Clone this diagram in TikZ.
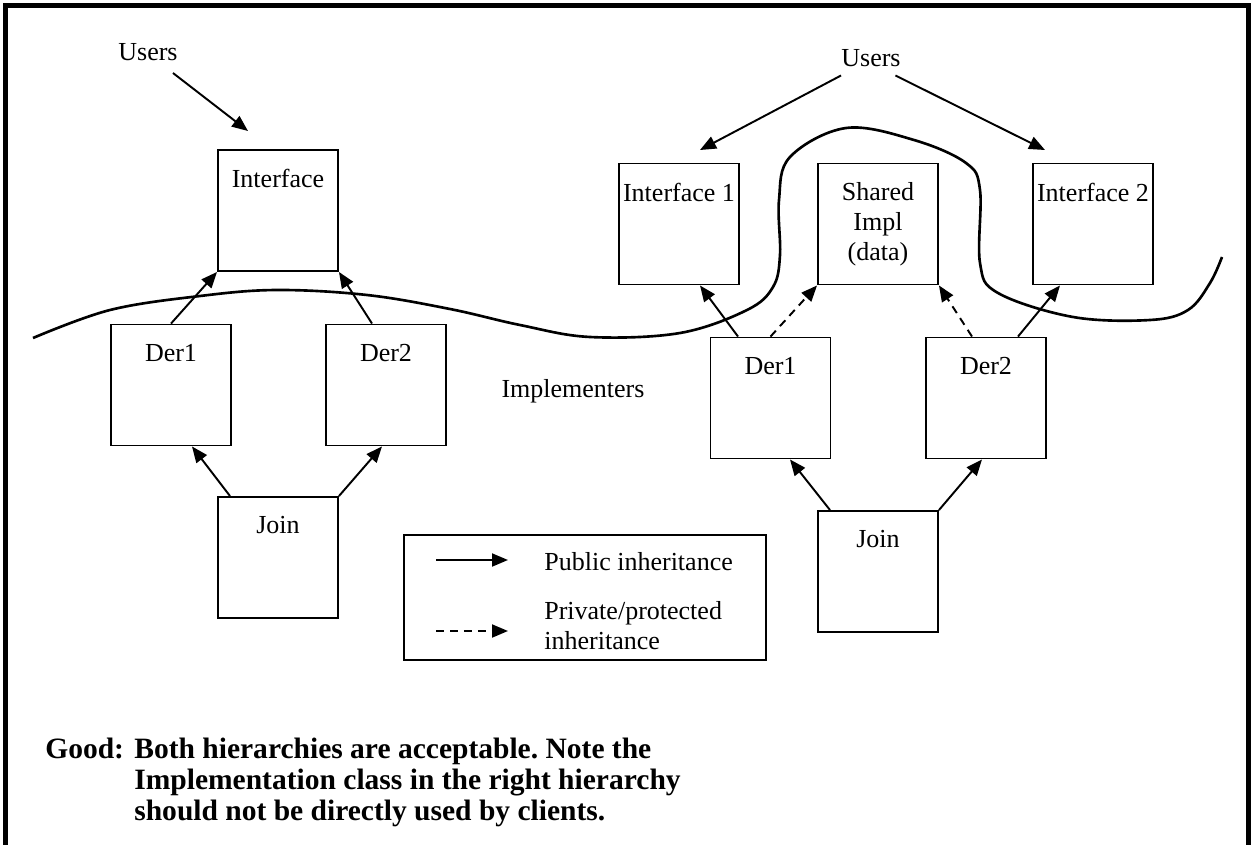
\documentclass[tikz,border=0pt]{standalone}
\usepackage{fontspec}
\setmainfont{Liberation Serif}
\usetikzlibrary{arrows.meta,positioning}
\frenchspacing

\tikzset{
  cls/.style={draw, line width=1.1pt, minimum width=2.4cm, minimum height=2.42cm, inner sep=0pt},
  lbl/.style={inner sep=0pt, align=center},
  inh/.style={line width=1.1pt, -{Triangle[length=0.32cm,width=0.26cm]}},
  priv/.style={inh, dash pattern=on 0.16cm off 0.12cm},
  cut/.style={line width=1.5pt},
  note/.style={inner sep=0pt, anchor=north west, align=left, font=\fontsize{16.8pt}{17.6pt}\selectfont\bfseries}
}

\begin{document}
\begin{tikzpicture}[x=0.02cm, y=-0.02cm, font=\fontsize{14.8pt}{17pt}\selectfont]
\useasboundingbox (0,0) rectangle (1251,845);
\draw [line width=2.4pt] (5.5,845) -- (5.5,5.5) -- (1248.5,5.5) -- (1248.5,845);

% class boxes, text at the top
\foreach \n/\x/\y/\t in {ifl/278/210.5/Interface, der1l/171/385/Der1, der2l/386/385/Der2, joinl/278/557.5/Join,
    if1/679/224/Interface 1, shared/878/224/{Shared\\Impl\\(data)}, if2/1093/224/Interface 2,
    der1r/770.5/398/Der1, der2r/986/398/Der2, joinr/878/571.5/Join} {
  \node [cls] (\n) at (\x,\y) {};
  \node [lbl, below=0.4cm of \n.north] (\n-t) {\t};
}

\node [lbl] (usersl) at (148,52) {Users};
\node [lbl] (usersr) at (871,58) {Users};
\node [lbl] (impl) at (573,391) {Implementers};
\coordinate (tipl) at (248,131);
\coordinate (tip1) at (700,150);
\coordinate (tip2) at (1045,150);
\draw [inh] ([shift={(-0.1cm,-0.24cm)}]usersl.south east) -- (tipl);
\draw [inh] ([yshift=-0.17cm]usersr.south west) -- (tip1);
\draw [inh] ([shift={(-0.11cm,-0.17cm)}]usersr.south east) -- (tip2);

% left hierarchy
\draw [inh] (der1l.north) -- (ifl.south west);
\draw [inh] ([xshift=-0.28cm]der2l.north) -- (ifl.south east);
\draw [inh] ([xshift=-0.96cm]joinl.north) -- ([xshift=0.42cm]der1l.south);
\draw [inh] (joinl.north east) -- ([xshift=-0.08cm]der2l.south);

% right hierarchy
\draw [inh] ([xshift=-0.65cm]der1r.north) -- ([xshift=0.42cm]if1.south);
\draw [priv] (der1r.north) -- (shared.south west);
\draw [priv] ([xshift=-0.28cm]der2r.north) -- (shared.south east);
\draw [inh] ([xshift=0.64cm]der2r.north) -- ([xshift=-0.66cm]if2.south);
\draw [inh] ([xshift=-0.96cm]joinr.north) -- ([xshift=0.39cm]der1r.south);
\draw [inh] (joinr.north east) -- ([xshift=-0.08cm]der2r.south);

% users / implementers boundary
\draw [cut] plot [smooth, tension=0.6] coordinates {(33,338) (110,310) (200,296) (277,290) (367,295)
  (450,309) (520,325) (590,337) (680,333) (747,310) (773,287) (780,255) (779,200) (790,157)
  (846,128) (914,140) (966,163) (980,190) (980,263) (998,293) (1073,317) (1150,320) (1188,310)
  (1210,283) (1222,257)};

% legend
\node [draw, line width=1.1pt, minimum width=7.24cm, minimum height=2.5cm] (legend) at (585,597.5) {};
\coordinate (pub1) at (436,560);
\coordinate (pub2) at (508,560);
\coordinate (prv1) at (436,631);
\coordinate (prv2) at (508,631);
\draw [inh] (pub1) -- (pub2);
\draw [priv] (prv1) -- (prv2);
\node [lbl, anchor=north west] (pubt) at (544,552) {Public inheritance};
\node [lbl, anchor=north west, align=left] (prvt) at (544,601) {Private/protected\\inheritance};

\node [note] (good) at (45,738) {Good:};
\node [note] (goodt) at (134,738) {Both hierarchies are acceptable. Note the\\Implementation class in the right hierarchy\\should not be directly used by clients.};
\end{tikzpicture}
\end{document}
